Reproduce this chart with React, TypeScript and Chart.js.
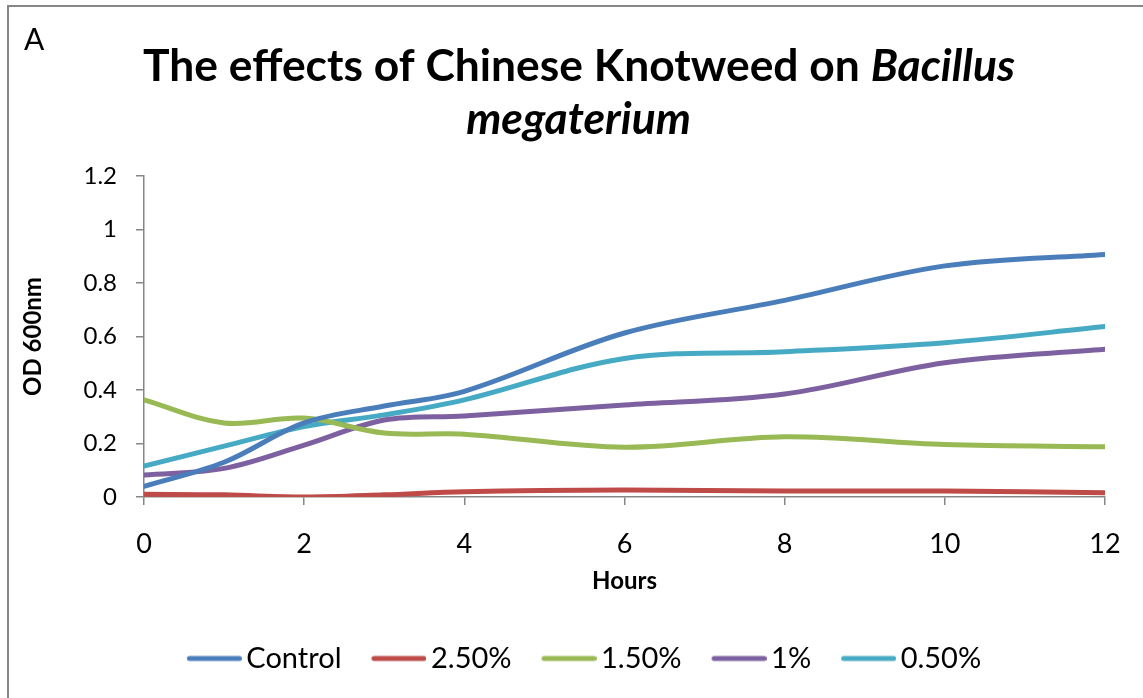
import React, { useEffect, useRef } from "react";
import { Chart, registerables } from "chart.js";

Chart.register(...registerables);

const PANEL_LABEL = "A";
const TITLE_PLAIN = "The effects of Chinese Knotweed on ";
const TITLE_ITALIC_1 = "Bacillus";
const TITLE_ITALIC_2 = "megaterium";
const X_TITLE = "Hours";
const Y_TITLE = "OD 600nm";

const HOURS = [0, 1, 2, 3, 4, 6, 8, 10, 12];
const SERIES_NAMES = ["Control", "2.50%", "1.50%", "1%", "0.50%"];
const CONTROL = [0.04, 0.13, 0.277, 0.34, 0.395, 0.613, 0.735, 0.864, 0.907];
const PCT_2_50 = [0.01, 0.008, 0.0, 0.008, 0.02, 0.026, 0.022, 0.022, 0.016];
const PCT_1_50 = [0.363, 0.277, 0.295, 0.239, 0.235, 0.186, 0.225, 0.196, 0.188];
const PCT_1 = [0.082, 0.107, 0.194, 0.288, 0.303, 0.344, 0.385, 0.502, 0.552];
const PCT_0_50 = [0.116, 0.19, 0.263, 0.307, 0.363, 0.518, 0.543, 0.577, 0.637];
const COLORS = ["#4A7EBB", "#BE4B48", "#98B954", "#7D60A0", "#46AAC5"];

const FONT = "Lato";
const AXIS_GRAY = "#868686";

// legend swatch: a 55px line that sits close to its label
function makeSwatch(color: string) {
  const c = document.createElement("canvas");
  c.width = 65;
  c.height = 8;
  const g = c.getContext("2d")!;
  g.strokeStyle = color;
  g.lineWidth = 5;
  g.lineCap = "round";
  g.beginPath();
  g.moveTo(12.5, 4);
  g.lineTo(62.5, 4);
  g.stroke();
  return c;
}

const titlePlugin = {
  id: "mixedTitle",
  afterDraw(chart: any) {
    const ctx = chart.ctx as CanvasRenderingContext2D;
    ctx.save();
    ctx.fillStyle = "#000";
    ctx.textBaseline = "alphabetic";
    ctx.textAlign = "left";
    ctx.font = `30px ${FONT}`;
    ctx.fillText(PANEL_LABEL, 15, 43);

    const plainFont = (s: number) => `bold ${s}px ${FONT}`;
    const italFont = (s: number) => `italic bold ${s}px ${FONT}`;
    ctx.font = plainFont(100);
    const a = ctx.measureText(TITLE_PLAIN).width;
    ctx.font = italFont(100);
    const b = ctx.measureText(TITLE_ITALIC_1).width;
    const size = (100 * 872) / (a + b);
    ctx.font = plainFont(size);
    const w1 = ctx.measureText(TITLE_PLAIN).width;
    ctx.font = italFont(size);
    const w2 = ctx.measureText(TITLE_ITALIC_1).width;
    const cx = 570;
    const x = cx - (w1 + w2) / 2;
    ctx.font = plainFont(size);
    ctx.fillText(TITLE_PLAIN, x, 74);
    ctx.font = italFont(size);
    ctx.fillText(TITLE_ITALIC_1, x + w1, 74);
    ctx.textAlign = "center";
    ctx.fillText(TITLE_ITALIC_2, 569.5, 127);
    ctx.restore();
  },
};

export default function App() {
  const ref = useRef<HTMLCanvasElement | null>(null);

  useEffect(() => {
    if (!ref.current) return;
    Chart.defaults.font.family = FONT;
    Chart.defaults.color = "#000";
    const all = [CONTROL, PCT_2_50, PCT_1_50, PCT_1, PCT_0_50];
    const chart = new Chart(ref.current, {
      type: "line",
      data: {
        datasets: all.map((vals, i) => ({
          label: SERIES_NAMES[i],
          data: HOURS.map((h, j) => ({ x: h, y: vals[j] })),
          borderColor: COLORS[i],
          backgroundColor: COLORS[i],
          borderWidth: 5,
          borderCapStyle: "round",
          pointRadius: 0,
          pointStyle: makeSwatch(COLORS[i]),
          tension: 0.35,
          fill: false,
        })),
      },
      plugins: [titlePlugin],
      options: {
        animation: false,
        responsive: false,
        maintainAspectRatio: false,
        layout: { padding: { left: 54, right: 48, top: 169, bottom: 44 } },
        plugins: {
          tooltip: { enabled: false },
          title: { display: false },
          legend: {
            position: "bottom",
            align: "center",
            labels: {
              usePointStyle: true,
              pointStyleWidth: 45,
              boxWidth: 45,
              padding: 30,
              color: "#000",
              font: { size: 29, family: FONT },
            },
          },
        },
        scales: {
          x: {
            type: "linear",
            min: 0,
            max: 12,
            afterFit: (s: any) => {
              s.height = 117;
            },
            ticks: { stepSize: 2, padding: 23, color: "#000", font: { size: 27, family: FONT } },
            grid: { drawOnChartArea: false, drawTicks: true, tickLength: 8, color: AXIS_GRAY, lineWidth: 1.5 },
            border: { color: AXIS_GRAY, width: 1.5 },
            title: {
              display: true,
              text: X_TITLE,
              color: "#000",
              font: { size: 24, weight: "bold", family: FONT },
              padding: { top: 0, bottom: 18 },
            },
          },
          y: {
            min: 0,
            max: 1.2,
            afterFit: (s: any) => {
              s.width = 81;
            },
            ticks: {
              stepSize: 0.2,
              padding: 19,
              color: "#000",
              font: { size: 24, family: FONT },
              callback: (v: any) => String(Math.round(Number(v) * 10) / 10),
            },
            grid: { drawOnChartArea: false, drawTicks: true, tickLength: 8, color: AXIS_GRAY, lineWidth: 1.5 },
            border: { color: AXIS_GRAY, width: 1.5 },
            title: {
              display: true,
              text: Y_TITLE,
              color: "#000",
              font: { size: 24, weight: "bold", family: FONT },
              padding: { top: -44, bottom: 0 },
            },
          },
        },
      },
    } as any);
    return () => chart.destroy();
  }, []);

  return (
    <div
      style={{
        position: "fixed",
        left: 0,
        top: 0,
        width: 1143,
        height: 698,
        overflow: "hidden",
        background: "#fff",
      }}
    >
      <div
        style={{
          position: "absolute",
          left: 7,
          top: 5,
          width: 2000,
          height: 2000,
          borderLeft: `2px solid ${AXIS_GRAY}`,
          borderTop: `2px solid ${AXIS_GRAY}`,
        }}
      />
      <canvas
        ref={ref}
        width={1144}
        height={720}
        style={{ position: "absolute", left: 9, top: 7, width: 1144, height: 720 }}
      />
    </div>
  );
}
